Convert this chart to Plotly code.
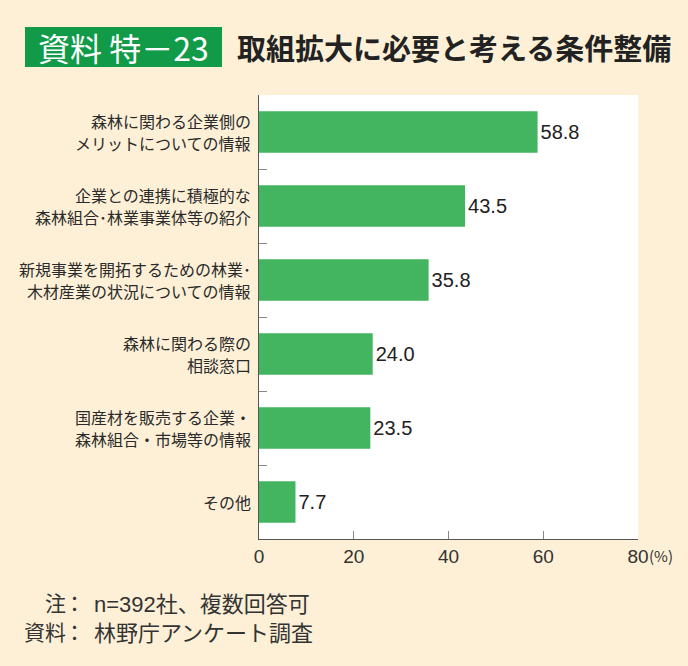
import plotly.graph_objects as go

categories = [
    "森林に関わる企業側の<br>メリットについての情報",
    "企業との連携に積極的な<br>森林組合･林業事業体等の紹介",
    "新規事業を開拓するための林業･<br>木材産業の状況についての情報",
    "森林に関わる際の<br>相談窓口",
    "国産材を販売する企業・<br>森林組合・市場等の情報",
    "その他",
]
values = [58.8, 43.5, 35.8, 24.0, 23.5, 7.7]
x_ticks = [0, 20, 40, 60, 80]

W, H = 688, 666
L, R, T, B = 259, 638, 95, 539

def px(x):
    return (x - L) / (R - L)

def py(y):
    return (B - y) / (B - T)

JP = "Noto Sans CJK JP"
fig = go.Figure(go.Bar(
    x=values, y=categories, orientation="h",
    marker=dict(color="#43B45F", line=dict(width=0)),
    width=0.56,
    texttemplate="%{x:.1f}", textposition="outside",
    textfont=dict(family="Liberation Sans", size=20, color="#222"),
    cliponaxis=False,
))

fig.update_layout(
    width=W, height=H,
    margin=dict(l=L, r=W - R, t=T, b=H - B),
    paper_bgcolor="#FDF0D7", plot_bgcolor="#FFFFFF",
    showlegend=False,
    xaxis=dict(range=[0, 80], tickvals=x_ticks, ticktext=[str(v) for v in x_ticks],
               ticks="inside", ticklen=8, tickcolor="#888", showgrid=False,
               zeroline=False, showline=True, linecolor="#555", linewidth=1,
               tickfont=dict(family="Liberation Sans", size=19, color="#333")),
    yaxis=dict(autorange="reversed", tickson="boundaries", ticks="inside",
               ticklen=8, tickcolor="#888", showgrid=False, showline=True,
               linecolor="#555", linewidth=1, showticklabels=False),
)

# category labels, one annotation per line with 22px line spacing
LINE = 22
for cat in categories:
    lines = cat.split("<br>")
    n = len(lines)
    for i, ln in enumerate(lines):
        shift = ((n - 1) / 2 - i) * LINE
        fig.add_annotation(xref="paper", yref="y", x=px(253), y=cat, yshift=shift,
                           text=ln, showarrow=False, xanchor="right", yanchor="middle",
                           font=dict(family=JP, size=16, color="#2a2a2a"))

# title box
fig.add_shape(type="rect", xref="paper", yref="paper",
              x0=px(25), x1=px(222), y0=py(67), y1=py(27),
              fillcolor="#119A48", line=dict(width=0), layer="above")
fig.add_annotation(xref="paper", yref="paper", x=px(123), y=py(47),
                   text="資料 特－23", showarrow=False, xanchor="center", yanchor="middle",
                   font=dict(family=JP, size=32, color="#FFFFFF"))
fig.add_annotation(xref="paper", yref="paper", x=px(235), y=py(47),
                   text="取組拡大に必要と考える条件整備", showarrow=False,
                   xanchor="left", yanchor="middle",
                   font=dict(family=JP, size=29, color="#222", weight="bold"))

# (%)
fig.add_annotation(xref="paper", yref="paper", x=px(647), y=py(555),
                   text="(%)", showarrow=False, xanchor="left", yanchor="middle",
                   font=dict(family=JP, size=15, color="#333"))

# footnotes
for yy, lab, content in [(602, "注", "<span style='font-family:Liberation Sans'>n=392</span>社、複数回答可"),
                         (631, "資料", "林野庁アンケート調査")]:
    fig.add_annotation(xref="paper", yref="paper", x=px(68), y=py(yy), text=lab,
                       showarrow=False, xanchor="right", yanchor="middle",
                       font=dict(family=JP, size=21, color="#333"))
    fig.add_annotation(xref="paper", yref="paper", x=px(74), y=py(yy), text="：",
                       showarrow=False, xanchor="center", yanchor="middle",
                       font=dict(family=JP, size=21, color="#333"))
    fig.add_annotation(xref="paper", yref="paper", x=px(92), y=py(yy), text=content,
                       showarrow=False, xanchor="left", yanchor="middle",
                       font=dict(family=JP, size=22, color="#333"))

fig.write_html("out.html")
